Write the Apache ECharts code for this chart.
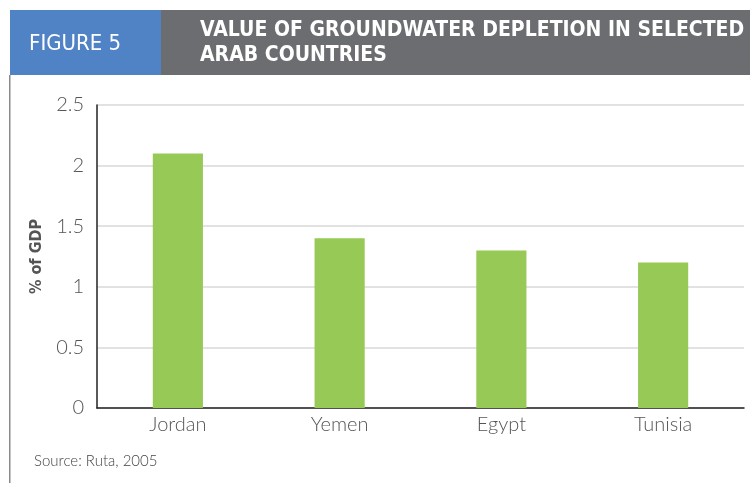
<!DOCTYPE html>
<html>
<head>
<meta charset="utf-8">
<script src="https://cdn.jsdelivr.net/npm/echarts@6/dist/echarts.min.js"></script>
<style>
  html, body { margin: 0; padding: 0; background: #ffffff; }
  #chart { width: 750px; height: 483px; }
</style>
</head>
<body>
<div id="chart"></div>
<script>
// Groundwater depletion value, % of GDP
const countries = ['Jordan', 'Yemen', 'Egypt', 'Tunisia'];
const depletionPctGdp = [2.1, 1.4, 1.3, 1.2];
const yTicks = { min: 0, max: 2.5, interval: 0.5 };

const figureLabel = 'FIGURE 5';
const titleLines = ['VALUE OF GROUNDWATER DEPLETION IN SELECTED', 'ARAB COUNTRIES'];
const sourceNote = 'Source: Ruta, 2005';
const yAxisName = '% of GDP';

const chart = echarts.init(document.getElementById('chart'), null, { renderer: 'canvas' });

const lightFont = 'Lato';
const boldFont = '"Liberation Sans Narrow", "DejaVu Sans Condensed", sans-serif';

chart.setOption({
  backgroundColor: '#ffffff',
  animation: false,
  graphic: [
    // header bar: blue figure tab + grey title band
    { type: 'rect', shape: { x: 10, y: 10, width: 151, height: 65 }, style: { fill: '#4F83C6' }, silent: true },
    { type: 'rect', shape: { x: 161, y: 10, width: 589, height: 65 }, style: { fill: '#6C6D71' }, silent: true },
    // left frame line
    { type: 'rect', shape: { x: 9, y: 75, width: 1.5, height: 408 }, style: { fill: '#8a8a8a' }, silent: true },
    {
      type: 'text', left: 29, top: 33,
      style: { text: figureLabel, fill: '#ffffff', font: '400 22px ' + boldFont }
    },
    {
      type: 'text', left: 200, top: 18,
      style: { text: titleLines.join('\n'), fill: '#ffffff', font: 'bold 21px ' + boldFont, lineHeight: 25 }
    },
    {
      type: 'text', left: 34, top: 454,
      style: { text: sourceNote, fill: '#444444', font: '300 15px ' + lightFont }
    }
  ],
  grid: { left: 97, right: 6, top: 105, bottom: 75, containLabel: false },
  xAxis: {
    type: 'category',
    data: countries,
    axisLine: { show: true, lineStyle: { color: '#222222', width: 1.5 } },
    axisTick: { show: false },
    axisLabel: { color: '#555555', fontFamily: lightFont, fontWeight: 300, fontSize: 20, margin: 7 }
  },
  yAxis: {
    type: 'value',
    min: yTicks.min,
    max: yTicks.max,
    interval: yTicks.interval,
    name: yAxisName,
    nameLocation: 'middle',
    nameGap: 46,
    nameTextStyle: { color: '#555555', fontFamily: boldFont, fontWeight: 'bold', fontSize: 16 },
    axisLine: { show: true, lineStyle: { color: '#222222', width: 1.5 } },
    axisTick: { show: false },
    axisLabel: {
      color: '#555555', fontFamily: lightFont, fontWeight: 300, fontSize: 20, margin: 13,
      formatter: v => String(v)
    },
    splitLine: { show: true, lineStyle: { color: '#d9d9d9', width: 1.5 } }
  },
  series: [{
    type: 'bar',
    data: depletionPctGdp,
    barWidth: '31%',
    itemStyle: { color: '#97C957' }
  }]
});
</script>
</body>
</html>
